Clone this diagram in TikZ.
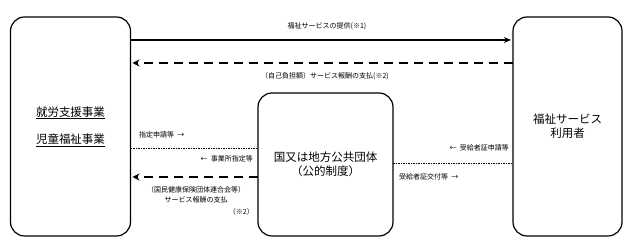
\documentclass[tikz,border=0pt]{standalone}
\usepackage{fontspec}
\setmainfont{Noto Sans CJK JP}
\usetikzlibrary{arrows.meta,positioning}

\begin{document}
\begin{tikzpicture}[x=1pt,y=-1pt,
  box/.style={draw,line width=1.2pt,rounded corners=14pt,align=center,
    font=\fontsize{11.5}{14}\selectfont,inner sep=0pt,outer sep=0pt},
  lbl/.style={font=\fontsize{7}{9.5}\selectfont,inner sep=1pt,align=center},
  flow/.style={line width=1.6pt,-{Stealth[length=7pt,width=6pt]}},
  pay/.style={line width=2.6pt,dash pattern=on 9pt off 6pt,-{Stealth[length=7pt,width=7pt]}},
  sep/.style={line width=0.3pt,dash pattern=on 1.5pt off 1pt}]
\useasboundingbox (0,0) rectangle (630,245);
% boxes
\node[box,minimum width=120pt,minimum height=219pt] (jigyo) at (70.5,126.5)
  {\underline{就労支援事業}\\[13pt]\underline{児童福祉事業}};
\node[box,minimum width=109pt,minimum height=219pt] (riyo) at (567.5,126.5)
  {福祉サービス\\利用者};
\node[box,minimum width=135pt,minimum height=143pt] (kokyo) at (325.5,164.5)
  {国又は地方公共団体\\（公的制度）};
% service and payment
\draw[flow] (jigyo.east |- 0,40) -- ([xshift=-2pt]riyo.west |- 0,40);
\node[lbl] (teikyo) at (327,26) {福祉サービスの提供(※1)};
\draw[pay] (riyo.west |- 0,63) -- ([xshift=2pt]jigyo.east |- 0,63);
\node[lbl] (futan) at (325,76) {（自己負担額）サービス報酬の支払(※2)};
% designation
\node[lbl,anchor=west] (shinsei) at (138,135) {指定申請等 \ →};
\draw[sep] (jigyo.east |- 0,148) -- (kokyo.west |- 0,148);
\node[lbl,anchor=east] (shitei) at (254,159) {← \ 事業所指定等};
\draw[pay] (kokyo.west |- 0,177) -- ([xshift=2pt]jigyo.east |- 0,177);
\node[lbl] (kokuho) at (196,195) {（国民健康保険団体連合会等）\\サービス報酬の支払};
\node[lbl,anchor=east] (kome) at (255,212) {（※2）};
% certificate
\node[lbl,anchor=east] (jukyu) at (510,148) {← \ 受給者証申請等};
\draw[sep] (kokyo.east |- 0,163) -- (riyo.west |- 0,163);
\node[lbl,anchor=west] (kofu) at (398,177) {受給者証交付等 \ →};
\end{tikzpicture}
\end{document}
